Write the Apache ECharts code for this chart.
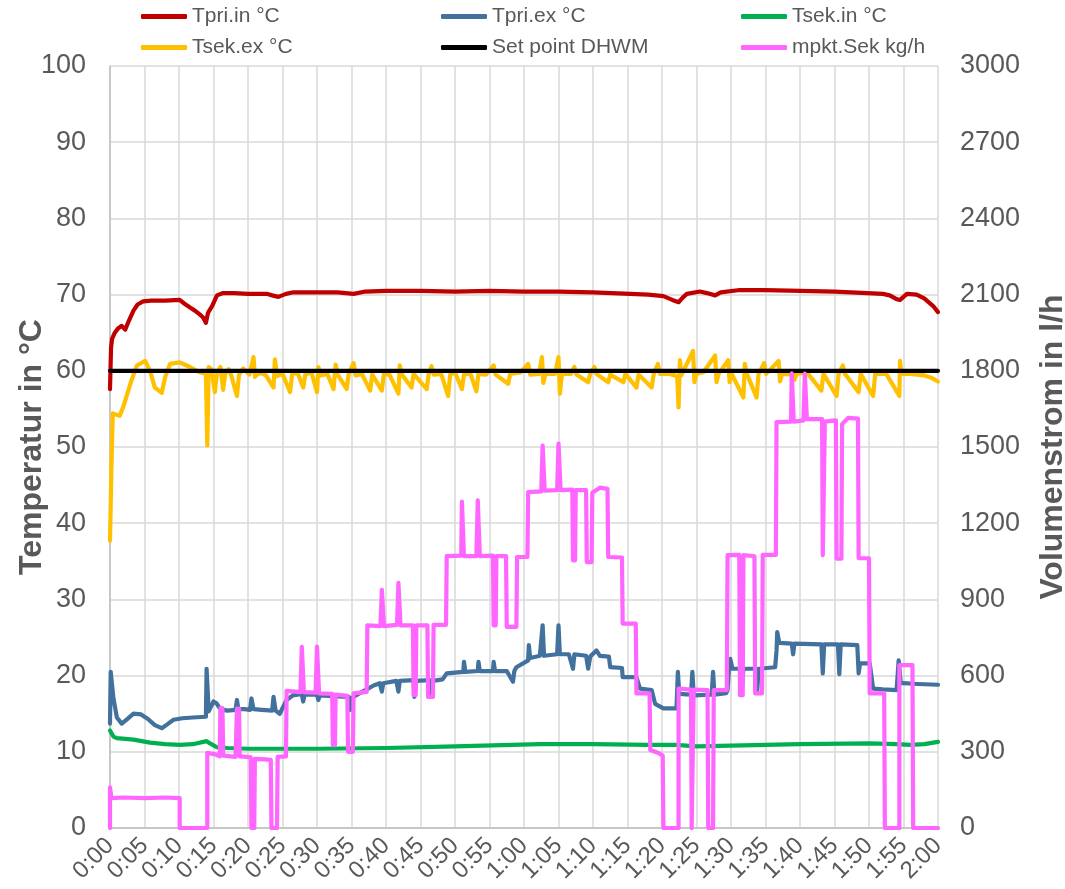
<!DOCTYPE html>
<html>
<head>
<meta charset="utf-8">
<script src="https://cdn.jsdelivr.net/npm/echarts@6/dist/echarts.min.js"></script>
<style>
  html, body { margin: 0; padding: 0; background: #ffffff; }
  #chart { width: 1065px; height: 889px; }
</style>
</head>
<body>
<div id="chart"></div>
<script>
// Time axis: minutes after start, labelled h:mm every 5 minutes
const timeTicks = [0, 120, 5];

const seriesNames = ['Tpri.in °C', 'Tpri.ex °C', 'Tsek.in °C', 'Tsek.ex °C', 'Set point DHWM', 'mpkt.Sek kg/h'];

// [minute, °C]
const tPriIn = [[0,57.6],[0.15,63],[0.3,64.2],[0.7,65],[1.2,65.6],[1.7,65.9],[2.2,65.4],[2.7,66.5],[3.4,67.9],[4,68.7],[4.8,69.1],[6,69.2],[8,69.2],[10.1,69.3],[10.8,68.8],[11.6,68.3],[12.3,67.9],[13,67.4],[13.5,67],[13.9,66.3],[14.2,67.6],[14.8,68.5],[15.5,69.9],[16.4,70.2],[18,70.2],[20,70.1],[22.7,70.1],[23.5,69.9],[24.4,69.7],[25.5,70.1],[26.6,70.3],[30,70.3],[33,70.3],[35.3,70.1],[37,70.4],[40,70.5],[45,70.5],[50,70.4],[55,70.5],[60,70.4],[65,70.4],[70,70.3],[75.4,70.1],[78,70],[80.2,69.8],[81.5,69.3],[82.4,69],[83,69.6],[83.6,70.1],[85.5,70.4],[86.5,70.2],[87.7,69.9],[88.5,70.3],[91.3,70.6],[95,70.6],[100,70.5],[105,70.4],[109.7,70.2],[112,70.1],[113,69.9],[114,69.4],[114.5,69.3],[115.5,70.1],[116.9,70],[118,69.5],[119.3,68.5],[120,67.7]];

const tPriEx = [[0,13.7],[0.1,20.5],[0.5,17],[1,14.5],[1.7,13.7],[2.5,14.3],[3.4,15],[4.5,14.9],[5.5,14.3],[6.5,13.5],[7.5,13.1],[8.3,13.6],[9.2,14.2],[10.5,14.4],[12,14.5],[13.9,14.6],[14.0,20.9],[14.3,15.3],[15,16.6],[15.4,16.4],[16,15.6],[17,15.4],[18.2,15.5],[18.4,16.8],[18.6,15.6],[19.5,15.6],[20.3,15.5],[20.5,17.0],[20.8,15.6],[22,15.5],[23.5,15.4],[23.7,17.2],[24,15.4],[24.6,15.0],[25.6,16.8],[26.5,17.4],[27.8,17.6],[28,16.6],[28.2,17.5],[30,17.5],[30.2,16.8],[30.4,17.4],[32.3,17.3],[34.6,17.2],[34.8,15.5],[35.1,17.1],[36,17.6],[37.4,18.3],[38.2,18.7],[39.1,19.0],[39.4,17.9],[39.6,19.0],[41.5,19.3],[41.8,17.9],[42,19.3],[44,19.4],[44.1,17.2],[44.4,19.3],[46.3,19.4],[46.5,17.2],[46.8,19.3],[48.2,19.5],[48.8,20.3],[50,20.4],[51.2,20.5],[51.3,21.8],[51.5,20.5],[53.3,20.6],[53.4,21.8],[53.6,20.6],[55.5,20.6],[55.6,21.8],[55.8,20.6],[57.5,20.6],[58.4,19.2],[58.6,20.6],[58.9,21.1],[60.6,22.0],[60.7,24.0],[60.9,22.3],[62.3,22.6],[62.7,26.6],[62.9,22.6],[64.8,22.8],[65,26.6],[65.2,22.8],[66.5,22.8],[67.1,20.9],[67.3,22.8],[69,22.6],[69.3,20.9],[69.6,22.5],[70.5,23.3],[71,22.6],[72.3,22.5],[72.5,21.1],[74.2,21.0],[74.3,19.8],[76.3,19.8],[76.8,18.3],[78.5,18.1],[79,16.3],[80.2,15.7],[82.1,15.7],[82.3,20.5],[82.5,17.6],[84.2,17.5],[84.4,20.5],[84.6,17.4],[87.2,17.5],[87.4,20.5],[87.6,17.5],[89.3,17.7],[89.5,18.1],[89.7,20.9],[89.9,22.2],[90.2,20.9],[91.5,20.9],[91.6,18.5],[91.8,20.9],[93.7,20.9],[93.8,18.0],[94,20.9],[96.4,21.1],[96.6,23.3],[96.7,25.7],[97,24.3],[98.8,24.2],[99,22.8],[99.2,24.2],[103.1,24.1],[103.3,20.3],[103.5,24.1],[105.5,24.1],[105.7,20.2],[105.9,24.1],[108.3,24.0],[108.5,20.3],[108.7,21.6],[110.1,21.6],[110.6,18.3],[112,18.2],[114,18.1],[114.3,22.0],[114.6,19.0],[115,19.0],[117,18.9],[120,18.8]];

const tSekIn = [[0,12.8],[0.5,12],[1,11.8],[3.4,11.6],[5.8,11.2],[8,11],[10.1,10.9],[12,11],[14,11.4],[14.5,11.1],[15.5,10.6],[17,10.5],[20,10.4],[30,10.4],[40,10.5],[50,10.7],[62.3,11.0],[70,11.0],[78,10.9],[82,10.9],[85,10.7],[90,10.8],[100,11.0],[110,11.1],[114,11.0],[116,10.9],[118,11.0],[120,11.3]];

const tSekEx = [[0,37.7],[0.2,47],[0.4,54.4],[1.4,54.1],[1.9,55.2],[3.1,58.7],[3.9,60.7],[5.1,61.3],[5.8,60],[6.5,57.8],[7.5,57.1],[8,59.2],[8.7,60.9],[10.1,61.1],[11.6,60.5],[13,59.8],[13.9,59.6],[14.1,50.2],[14.3,60.5],[14.7,60.2],[15.2,57.2],[15.5,59.7],[16,60.5],[16.4,57.5],[16.7,59.6],[17.2,60.2],[17.6,59.3],[18.4,56.7],[18.7,59.5],[19.3,60.3],[20.2,59.5],[20.8,61.8],[21,59.2],[21.4,59.6],[22,59.7],[22.6,59.4],[23.7,57.8],[23.9,61.5],[24.2,59.3],[25,59.6],[26.1,57.2],[26.4,59.6],[27.2,59.7],[28,57.8],[28.3,59.5],[29.2,59.8],[30,57.2],[30.2,60.5],[30.5,59.4],[31.5,59.6],[32.4,57.6],[32.7,60.8],[33,59.5],[34.3,57.6],[34.6,59.6],[35.3,61],[35.6,59.4],[36.5,59.6],[37.7,57.4],[38,59.5],[39.4,57.4],[39.7,59.6],[40.5,59.5],[41.8,57.0],[42,60.7],[42.3,59.5],[43.7,57.8],[44,59.6],[45.9,57.6],[46.2,59.6],[46.6,60.6],[46.9,59.5],[48,59.6],[49,56.7],[49.3,59.5],[50,59.8],[51,57.6],[51.3,59.5],[52.2,59.7],[53.1,57.3],[53.4,59.6],[54.5,59.5],[55.6,60.7],[55.9,59.5],[57.7,58.3],[58,59.6],[59.5,59.8],[60.6,60.9],[60.9,59.5],[62.2,59.6],[62.6,61.8],[62.8,58.4],[63.1,59.6],[64.5,59.6],[65,61.8],[65.2,57.0],[65.5,59.6],[66.8,59.6],[67.3,60.5],[67.6,59.5],[69.3,58.5],[69.6,59.6],[70.2,60.5],[70.5,59.6],[72.2,58.5],[72.5,59.5],[74.4,58.5],[74.7,59.6],[76.3,57.8],[76.6,59.5],[78.5,57.8],[78.8,59.6],[79.4,60.9],[79.7,59.6],[81,59.6],[82.2,59.3],[82.4,55.2],[82.6,61.4],[82.8,59.4],[84.5,62.6],[84.7,58.5],[85,59.6],[86,59.8],[87.7,62.0],[87.9,58.5],[88.2,59.6],[89.6,61.4],[89.8,58.5],[90.1,59.6],[91.8,56.5],[92,60.9],[92.3,59.6],[93.7,56.5],[94,59.6],[94.8,61],[95.1,59.6],[96.9,61.3],[97.1,58.6],[97.4,59.6],[99,59.5],[99.2,58.8],[99.5,59.6],[101,59.8],[103.1,57.4],[103.4,59.6],[105.3,56.7],[105.6,59.6],[106.2,60.7],[106.5,59.6],[108.5,57.2],[108.8,59.6],[110.6,56.7],[110.9,59.6],[112.5,59.6],[114.4,56.7],[114.5,61.3],[114.7,59.6],[116,59.6],[118,59.4],[119,59.1],[120,58.6]];

const setPoint = [[0,60],[120,60]];

// [minute, l/h] — secondary axis
const mpktSek = [[0,0],[0,160],[0.2,118],[2,120],[5,118],[8,120],[10.1,118],[10.1,0],[14.1,0],[14.1,296],[15.3,290],[15.9,282],[16,472],[16.3,472],[16.4,285],[17.5,282],[18.2,280],[18.4,470],[18.7,470],[18.8,282],[19.8,280],[20.4,278],[20.5,0],[20.9,0],[21.0,272],[22.5,270],[23.3,268],[23.4,0],[24.2,0],[24.3,280],[25.5,282],[25.6,540],[27.6,535],[27.8,713],[28.0,713],[28.1,535],[29.8,533],[30,714],[30.2,714],[30.3,530],[32.2,528],[32.3,326],[32.6,326],[32.7,525],[34.4,520],[34.5,300],[35.2,300],[35.3,530],[37.2,536],[37.3,798],[39.2,795],[39.4,938],[39.6,938],[39.7,795],[41.6,800],[41.8,965],[42,965],[42.1,798],[43.9,798],[44,523],[44.3,523],[44.4,798],[46,798],[46.1,516],[46.8,516],[46.9,800],[48.7,800],[48.8,1070],[50.9,1072],[51,1285],[51.2,1285],[51.3,1070],[53.1,1070],[53.3,1290],[53.5,1290],[53.6,1070],[55.5,1072],[55.6,798],[55.9,798],[56,1070],[57.4,1070],[57.5,792],[58.9,792],[59,1067],[60.5,1067],[60.6,1322],[62.5,1325],[62.7,1506],[62.9,1506],[63,1328],[64.8,1330],[65,1513],[65.2,1513],[65.3,1330],[67,1332],[67.1,1054],[67.4,1054],[67.5,1330],[69,1330],[69.1,1047],[69.8,1047],[69.9,1320],[71,1340],[72.1,1335],[72.2,1067],[74.2,1065],[74.3,805],[76.2,805],[76.3,530],[78.2,530],[78.3,307],[79.5,295],[80.1,285],[80.2,0],[82.4,0],[82.4,549],[84.2,545],[84.3,0],[84.5,0],[84.6,545],[86.6,543],[86.7,0],[87.4,0],[87.5,543],[89.4,543],[89.5,1074],[91.2,1075],[91.3,523],[91.7,523],[91.8,1074],[93.4,1070],[93.5,530],[94.5,530],[94.6,1075],[96.5,1075],[96.6,1598],[98.7,1600],[98.8,1790],[99,1790],[99.1,1600],[100.5,1605],[100.7,1789],[100.9,1789],[101,1610],[103.2,1610],[103.3,1074],[103.5,1074],[103.6,1600],[105.2,1605],[105.3,1060],[106,1060],[106.1,1590],[107,1615],[108.4,1612],[108.5,1062],[110,1062],[110.1,530],[112.2,530],[112.3,0],[114.4,0],[114.4,641],[116.3,641],[116.4,0],[120,0]];

const tempAxis = [0, 100, 10];
const flowAxis = [0, 3000, 300];

const colors = ['#C00000', '#41719C', '#00B050', '#FFC000', '#000000', '#FF66FF'];
const seriesData = [tPriIn, tPriEx, tSekIn, tSekEx, setPoint, mpktSek];

const FONT = '"Liberation Sans", Arial, sans-serif';
const TXT = '#595959';

const chart = echarts.init(document.getElementById('chart'), null, { renderer: 'canvas' });

const legendPos = [[141, 6], [441, 6], [741, 6], [141, 37], [441, 37], [741, 37]];

chart.setOption({
  animation: false,
  backgroundColor: '#ffffff',
  textStyle: { fontFamily: FONT },
  legend: seriesNames.map((n, i) => ({
    data: [n],
    left: legendPos[i][0],
    top: legendPos[i][1],
    padding: 0,
    icon: 'roundRect',
    itemWidth: 46,
    itemHeight: 5,
    textStyle: { fontFamily: FONT, fontSize: 21, color: TXT },
    selectedMode: false
  })),
  grid: { left: 110, right: 127, top: 66, bottom: 61, containLabel: false, outerBoundsMode: 'none' },
  xAxis: {
    type: 'value',
    min: timeTicks[0], max: timeTicks[1], interval: timeTicks[2],
    axisLine: { show: true, lineStyle: { color: '#BFBFBF', width: 1.5 } },
    axisTick: { show: false },
    splitLine: { show: true, lineStyle: { color: '#D9D9D9', width: 1.5 } },
    axisLabel: {
      rotate: 45, fontSize: 24, color: TXT, fontFamily: FONT, margin: 14,
      showMinLabel: true, showMaxLabel: true, hideOverlap: false,
      formatter: v => Math.floor(v / 60) + ':' + String(v % 60).padStart(2, '0')
    }
  },
  yAxis: [
    {
      type: 'value', position: 'left',
      min: tempAxis[0], max: tempAxis[1], interval: tempAxis[2],
      name: 'Temperatur in °C', nameLocation: 'middle', nameGap: 62, nameRotate: 90,
      nameMoveOverlap: false,
      nameTextStyle: { fontSize: 32, fontWeight: 'bold', color: TXT, fontFamily: FONT },
      axisLine: { show: true, lineStyle: { color: '#BFBFBF', width: 1.5 } },
      axisTick: { show: false },
      splitLine: { show: true, lineStyle: { color: '#D9D9D9', width: 1.5 } },
      axisLabel: { fontSize: 27, color: TXT, fontFamily: FONT, margin: 24 }
    },
    {
      type: 'value', position: 'right',
      min: flowAxis[0], max: flowAxis[1], interval: flowAxis[2],
      name: 'Volumenstrom in l/h', nameLocation: 'middle', nameGap: 99, nameRotate: 90,
      nameMoveOverlap: false,
      nameTextStyle: { fontSize: 32, fontWeight: 'bold', color: TXT, fontFamily: FONT },
      axisLine: { show: false },
      axisTick: { show: false },
      splitLine: { show: false },
      axisLabel: { fontSize: 27, color: TXT, fontFamily: FONT, margin: 22, formatter: v => String(v) }
    }
  ],
  series: seriesNames.map((n, i) => ({
    name: n,
    type: 'line',
    yAxisIndex: i === 5 ? 1 : 0,
    data: seriesData[i],
    showSymbol: false,
    symbol: 'none',
    color: colors[i],
    lineStyle: { color: colors[i], width: 4.2, join: 'round', cap: 'round' },
    emphasis: { disabled: true },
    silent: true
  }))
});
</script>
</body>
</html>
